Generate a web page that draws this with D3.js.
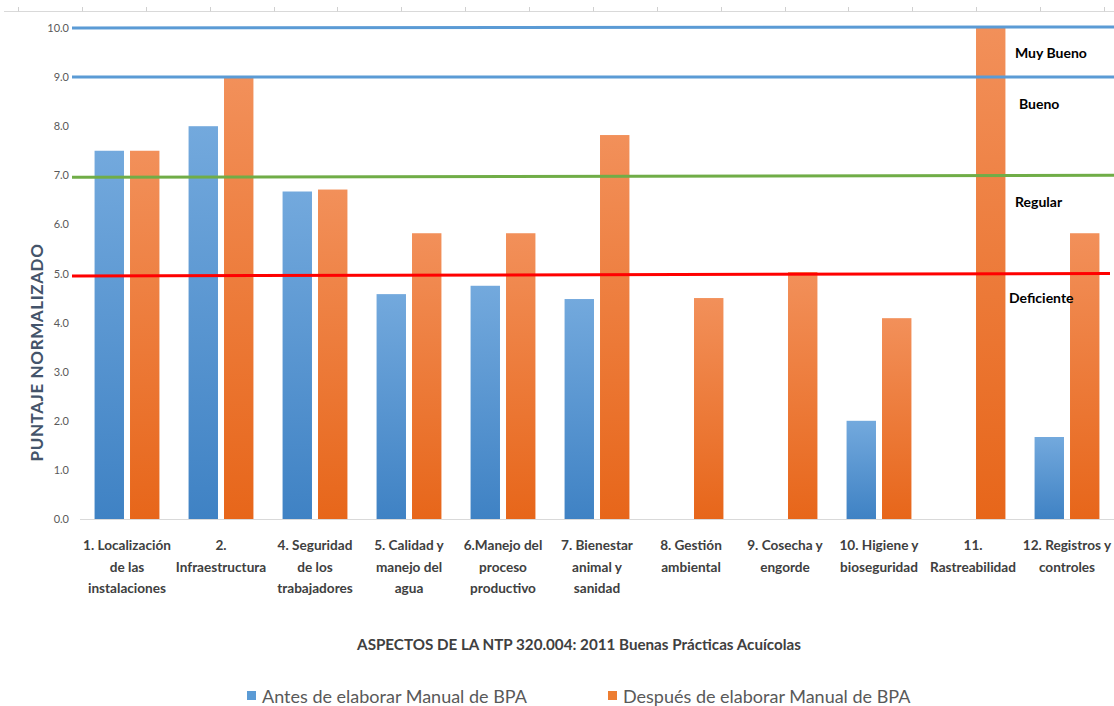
<!DOCTYPE html>
<html>
<head>
<meta charset="utf-8">
<script src="https://cdn.jsdelivr.net/npm/d3@7"></script>
<style>
  html, body { margin: 0; padding: 0; background: #fff; }
  svg { display: block; }
</style>
</head>
<body>
<svg id="chart" width="1114" height="706"></svg>
<script>
// Aspects of NTP 320.004:2011 (category 3 not evaluated)
const categories = [
  "1. Localización|de las|instalaciones",
  "2.|Infraestructura",
  "4. Seguridad|de los|trabajadores",
  "5. Calidad y|manejo del|agua",
  "6.Manejo del|proceso|productivo",
  "7. Bienestar|animal y|sanidad",
  "8. Gestión|ambiental",
  "9. Cosecha y|engorde",
  "10. Higiene y|bioseguridad",
  "11.|Rastreabilidad",
  "12. Registros y|controles"
];
const seriesNames = ["Antes de elaborar Manual de BPA", "Después de elaborar Manual de BPA"];
const antes   = [7.5, 8.0, 6.67, 4.58, 4.75, 4.48, 0, 0, 2.0, 0, 1.67];
const despues = [7.5, 9.0, 6.71, 5.82, 5.82, 7.82, 4.5, 5.03, 4.09, 10.0, 5.82];
const yTicks = [0, 1, 2, 3, 4, 5, 6, 7, 8, 9, 10];
// Rating bands: hand-drawn limit lines (value at left end, value at right end) and labels
const limitStart = [10, 9, 6.96, 4.95];
const limitEnd   = [10.02, 9, 7.0, 5.0];
const limitColors = ["#5b9bd5", "#5b9bd5", "#70ad47", "#ff0000"];
const bandLabels = ["Muy Bueno", "Bueno", "Regular", "Deficiente"];
const bandLabelValues = [9.5, 8.45, 6.45, 4.5];
const yTitle = "PUNTAJE NORMALIZADO";
const xTitle = "ASPECTOS DE LA NTP 320.004: 2011 Buenas Prácticas Acuícolas";

const svg = d3.select("#chart");
const font = "Lato, 'Open Sans', sans-serif";

const plotLeft = 80, plotRight = 1114, plotTop = 28, plotBottom = 519;
const y = d3.scaleLinear().domain([0, 10]).range([plotBottom, plotTop]);
const x = d3.scaleBand().domain(categories).range([plotLeft, plotRight]).paddingInner(0.31).paddingOuter(0.155);
const x1 = d3.scaleBand().domain([0, 1]).range([0, x.bandwidth()]).paddingInner(0.17);

// Gradients for the bars
const defs = svg.append("defs");
const grads = [["gBlue", "#73a9dd", "#3f82c4"], ["gOrange", "#f2905a", "#e7661a"]];
grads.forEach(([id, c0, c1]) => {
  const g = defs.append("linearGradient").attr("id", id).attr("x1", 0).attr("y1", 0).attr("x2", 0).attr("y2", 1);
  g.append("stop").attr("offset", "0%").attr("stop-color", c0);
  g.append("stop").attr("offset", "100%").attr("stop-color", c1);
});

// Thin rule with tick marks along the top edge
const topScale = d3.scalePoint().domain(d3.range(18)).range([18, 1104]);
svg.append("line").attr("x1", 4).attr("x2", 1114).attr("y1", 11.5).attr("y2", 11.5)
  .attr("stroke", "#d9d9d9").attr("stroke-width", 1);
svg.selectAll("line.topTick").data(topScale.domain()).join("line")
  .attr("class", "topTick")
  .attr("x1", d => Math.round(topScale(d)) + 0.5).attr("x2", d => Math.round(topScale(d)) + 0.5)
  .attr("y1", 7).attr("y2", 11.5)
  .attr("stroke", "#d0d0d0").attr("stroke-width", 1);

// Y axis tick labels
svg.selectAll("text.ytick").data(yTicks).join("text")
  .attr("class", "ytick")
  .attr("x", 69).attr("y", d => y(d) + 4)
  .attr("text-anchor", "end")
  .attr("font-family", font).attr("font-size", 11)
  .attr("fill", "#595959")
  .text(d => d.toFixed(1));

// Baseline
svg.append("line").attr("x1", plotLeft).attr("x2", plotRight).attr("y1", plotBottom + 0.5).attr("y2", plotBottom + 0.5)
  .attr("stroke", "#d9d9d9").attr("stroke-width", 1);

// Bars
const rows = categories.map((c, i) => ({ c, vals: [antes[i], despues[i]] }));
const groups = svg.selectAll("g.cat").data(rows).join("g")
  .attr("class", "cat")
  .attr("transform", d => `translate(${x(d.c)},0)`);
groups.selectAll("rect").data(d => d.vals.map((v, k) => ({ v, k })).filter(e => e.v > 0)).join("rect")
  .attr("x", d => x1(d.k))
  .attr("width", x1.bandwidth())
  .attr("y", d => y(d.v))
  .attr("height", d => y(0) - y(d.v))
  .attr("fill", d => d.k === 0 ? "url(#gBlue)" : "url(#gOrange)");

// Rating limit lines
const limitRight = [1114, 1114, 1114, 1110];
svg.selectAll("line.limit").data(limitStart).join("line")
  .attr("class", "limit")
  .attr("x1", 72).attr("x2", (d, i) => limitRight[i])
  .attr("y1", d => y(d)).attr("y2", (d, i) => y(limitEnd[i]))
  .attr("stroke", (d, i) => limitColors[i])
  .attr("stroke-width", 3);

// Rating labels
const labelX = [1015, 1019, 1015, 1009];
svg.selectAll("text.band").data(bandLabels).join("text")
  .attr("class", "band")
  .attr("x", (d, i) => labelX[i])
  .attr("y", (d, i) => y(bandLabelValues[i]) + 5)
  .attr("font-family", font).attr("font-size", 14).attr("font-weight", "bold")
  .attr("fill", "#000")
  .text(d => d);

// Category labels
svg.selectAll("text.xcat").data(categories).join("text")
  .attr("class", "xcat")
  .attr("text-anchor", "middle")
  .attr("font-family", font).attr("font-size", 13.6).attr("font-weight", "bold")
  .attr("fill", "#404040")
  .each(function (d) {
    const t = d3.select(this);
    d.split("|").forEach((line, i) => {
      t.append("tspan").attr("x", x(d) + x.bandwidth() / 2).attr("y", 550 + i * 21.5).text(line);
    });
  });

// Axis titles
svg.append("text")
  .attr("transform", `translate(43,${(plotTop + plotBottom) / 2 + 79}) rotate(-90)`)
  .attr("text-anchor", "middle")
  .attr("font-family", font).attr("font-size", 17).attr("font-weight", "bold")
  .attr("letter-spacing", 0.6)
  .attr("fill", "#44546a")
  .text(yTitle);

svg.append("text")
  .attr("x", 579).attr("y", 650)
  .attr("text-anchor", "middle")
  .attr("font-family", font).attr("font-size", 15.2).attr("font-weight", "bold")
  .attr("fill", "#404040")
  .text(xTitle);

// Legend
const legendX = [247, 608];
const legendFill = ["#5b9bd5", "#ed7d31"];
const lg = svg.selectAll("g.legend").data(seriesNames).join("g")
  .attr("class", "legend")
  .attr("transform", (d, i) => `translate(${legendX[i]},0)`);
lg.append("rect").attr("x", 0).attr("y", 691).attr("width", 9).attr("height", 9)
  .attr("fill", (d, i) => legendFill[i]);
lg.append("text").attr("x", 15).attr("y", 703)
  .attr("font-family", font).attr("font-size", 18)
  .attr("fill", "#595959")
  .text(d => d);
</script>
</body>
</html>
